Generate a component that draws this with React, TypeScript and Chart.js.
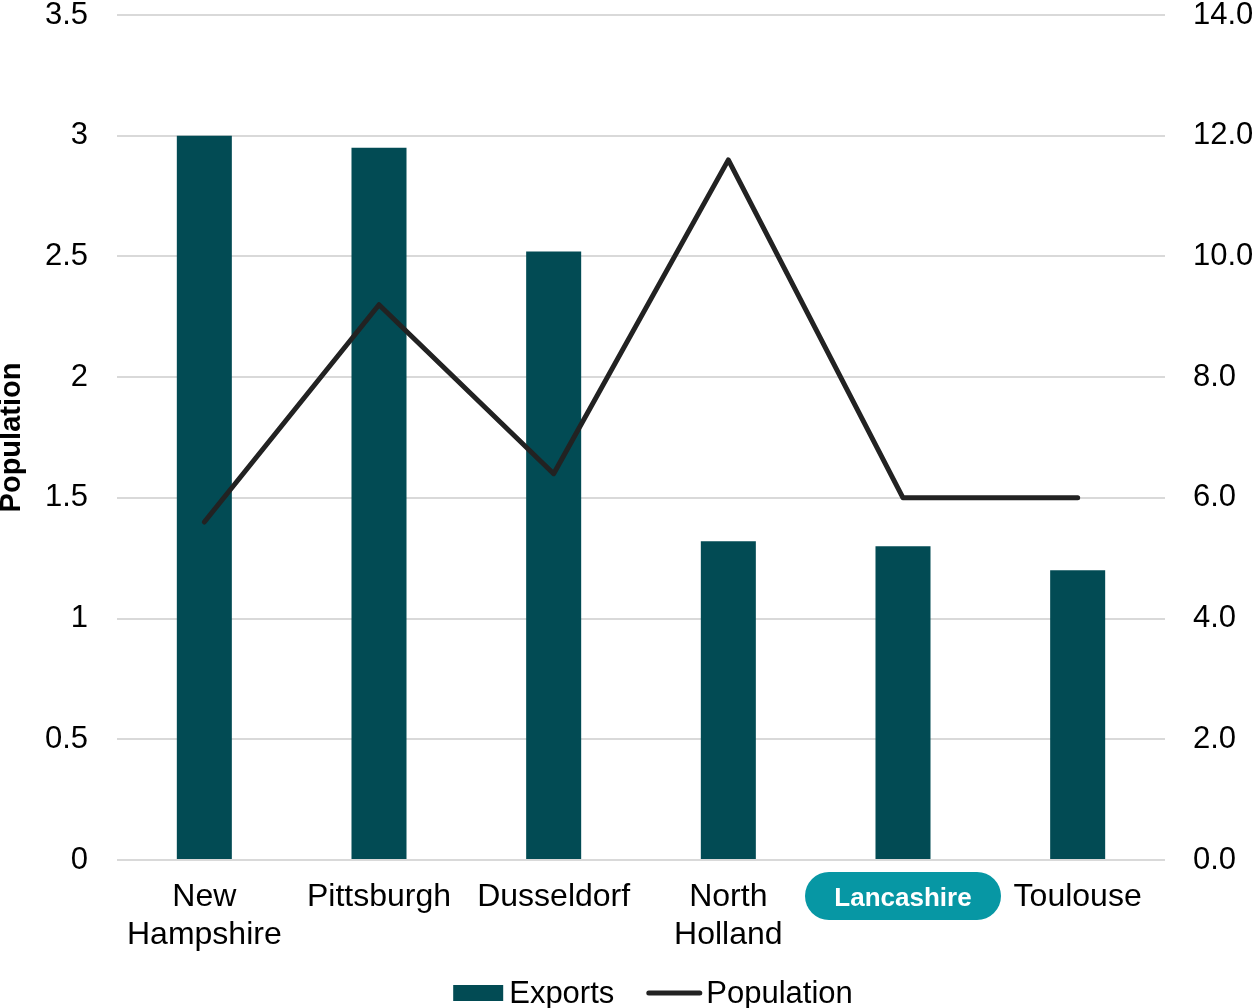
import React, { useEffect, useRef } from "react";
import { Chart, registerables } from "chart.js";

Chart.register(...registerables);

const categories: (string | string[])[] = [
  ["New", "Hampshire"],
  "Pittsburgh",
  "Dusseldorf",
  ["North", "Holland"],
  "Lancashire",
  "Toulouse",
];
const exportsValues = [3.0, 2.95, 2.52, 1.32, 1.3, 1.2];
const populationValues = [5.6, 9.2, 6.4, 11.6, 6.0, 6.0];
const highlightIndex = 4;

const FONT = "'Liberation Sans', Arial, sans-serif";
const BAR_COLOR = "#024B54";
const LINE_COLOR = "#222222";
const PILL_COLOR = "#0797A4";
const GRID_COLOR = "#D9D9D9";

// Rounded badge behind the highlighted category label
const pillPlugin = {
  id: "highlightPill",
  beforeDraw(chart: any) {
    const x = chart.scales.x;
    if (!x) return;
    const cx = x.getPixelForValue(highlightIndex);
    const cy = x.top + 36;
    const w = 196;
    const h = 48;
    const ctx = chart.ctx;
    ctx.save();
    ctx.fillStyle = PILL_COLOR;
    ctx.beginPath();
    ctx.roundRect(cx - w / 2, cy - h / 2, w, h, h / 2);
    ctx.fill();
    ctx.restore();
  },
};

// Compact legend row under the axis: swatch, text, line sample, text
const legendPlugin = {
  id: "compactLegend",
  afterDraw(chart: any) {
    const ctx = chart.ctx;
    const ds = chart.data.datasets;
    ctx.save();
    ctx.font = `31px ${FONT}`;
    const w0 = ctx.measureText(ds[0].label).width;
    const w1 = ctx.measureText(ds[1].label).width;
    const total = 50 + 6 + w0 + 32 + 56 + 4 + w1;
    const centerX = 653;
    const midY = 993;
    let x = centerX - total / 2;
    ctx.fillStyle = ds[0].backgroundColor;
    ctx.fillRect(x, midY - 8, 50, 16);
    x += 56;
    ctx.fillStyle = "#000";
    ctx.textBaseline = "alphabetic";
    ctx.textAlign = "left";
    ctx.fillText(ds[0].label, x, midY + 10);
    x += w0 + 32;
    ctx.strokeStyle = ds[1].borderColor;
    ctx.lineWidth = 5;
    ctx.lineCap = "round";
    ctx.beginPath();
    ctx.moveTo(x + 2.5, midY);
    ctx.lineTo(x + 53.5, midY);
    ctx.stroke();
    x += 60;
    ctx.fillText(ds[1].label, x, midY + 10);
    ctx.restore();
  },
};

export default function App() {
  const canvasRef = useRef<HTMLCanvasElement | null>(null);

  useEffect(() => {
    if (!canvasRef.current) return;
    const chart = new Chart(canvasRef.current, {
      type: "bar",
      data: {
        labels: categories,
        datasets: [
          {
            type: "bar",
            label: "Exports",
            data: exportsValues,
            backgroundColor: BAR_COLOR,
            borderWidth: 0,
            categoryPercentage: 1,
            barPercentage: 0.315,
            yAxisID: "y",
            order: 1,
          },
          {
            type: "line",
            label: "Population",
            data: populationValues,
            borderColor: LINE_COLOR,
            backgroundColor: LINE_COLOR,
            borderWidth: 5,
            borderCapStyle: "round",
            borderJoinStyle: "round",
            pointRadius: 0,
            tension: 0,
            yAxisID: "y1",
            order: 0,
          } as any,
        ],
      },
      options: {
        animation: false,
        responsive: true,
        maintainAspectRatio: false,
        layout: { padding: { top: 15, left: 0, right: 0, bottom: 41 } },
        plugins: {
          tooltip: { enabled: false },
          legend: { display: false },
        },
        scales: {
          x: {
            grid: { display: false, drawTicks: false },
            border: { display: false },
            ticks: {
              padding: 19,
              maxRotation: 0,
              autoSkip: false,
              color: (ctx: any) => (ctx.index === highlightIndex ? "#FFFFFF" : "#000000"),
              font: (ctx: any) =>
                ctx.index === highlightIndex
                  ? { family: FONT, size: 26, weight: "bold", lineHeight: 1.54 }
                  : { family: FONT, size: 32, lineHeight: 1.16 },
            },
            afterFit: (scale: any) => {
              scale.height = 107;
            },
          },
          y: {
            position: "left",
            min: 0,
            max: 3.5,
            ticks: {
              stepSize: 0.5,
              padding: 29,
              color: "#000",
              font: { family: FONT, size: 31 },
              callback: (v: any) => String(Number(v)),
            },
            grid: { color: GRID_COLOR, lineWidth: 2, drawTicks: false },
            border: { display: false },
            title: {
              display: true,
              text: "Population",
              color: "#000",
              font: { family: FONT, size: 29, weight: "bold", lineHeight: 0.8 },
              padding: { top: 0, bottom: 0 },
            },
            afterFit: (scale: any) => {
              scale.width = 117;
              scale.paddingTop = 0;
              scale.paddingBottom = 0;
            },
          },
          y1: {
            position: "right",
            min: 0,
            max: 14,
            ticks: {
              stepSize: 2,
              padding: 28,
              color: "#000",
              font: { family: FONT, size: 31 },
              callback: (v: any) => Number(v).toFixed(1),
            },
            grid: { display: false, drawTicks: false },
            border: { display: false },
            afterFit: (scale: any) => {
              scale.width = 91;
              scale.paddingTop = 0;
              scale.paddingBottom = 0;
            },
          },
        },
      },
      plugins: [pillPlugin, legendPlugin],
    });
    return () => chart.destroy();
  }, []);

  return (
    <div
      style={{
        position: "fixed",
        left: 0,
        top: 0,
        width: 1256,
        height: 1008,
        overflow: "hidden",
        background: "#fff",
      }}
    >
      <div style={{ position: "relative", width: 1256, height: 1008 }}>
        <canvas ref={canvasRef} />
      </div>
    </div>
  );
}
